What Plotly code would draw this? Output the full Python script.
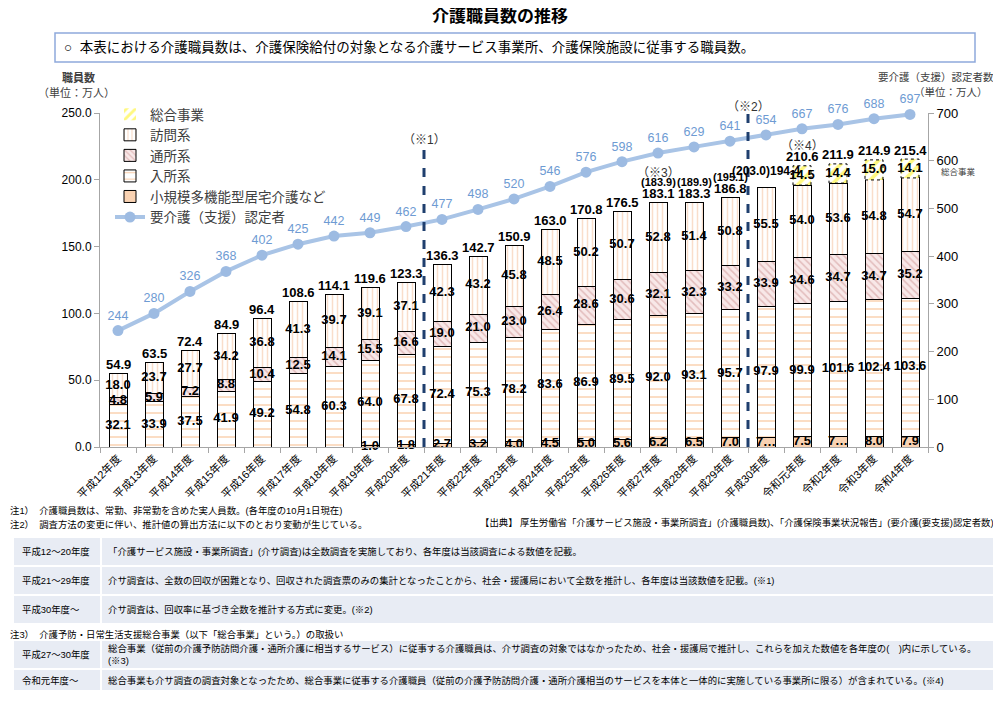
import plotly.graph_objects as go

# ---------------- data ----------------
categories = ["平成12年度", "平成13年度", "平成14年度", "平成15年度", "平成16年度",
              "平成17年度", "平成18年度", "平成19年度", "平成20年度", "平成21年度",
              "平成22年度", "平成23年度", "平成24年度", "平成25年度", "平成26年度",
              "平成27年度", "平成28年度", "平成29年度", "平成30年度", "令和元年度",
              "令和2年度", "令和3年度", "令和4年度"]

small_scale = [None, None, None, None, None, None, None,
               1.0, 1.8, 2.7, 3.2, 4.0, 4.5, 5.0, 5.6, 6.2, 6.5, 7.0, 7.1, 7.5, 7.6, 8.0, 7.9]
small_scale_labels = ["", "", "", "", "", "", "",
                      "1.0", "1.8", "2.7", "3.2", "4.0", "4.5", "5.0", "5.6", "6.2", "6.5",
                      "7.0", "7…", "7.5", "7…", "8.0", "7.9"]
residential = [32.1, 33.9, 37.5, 41.9, 49.2, 54.8, 60.3, 64.0, 67.8, 72.4, 75.3, 78.2,
               83.6, 86.9, 89.5, 92.0, 93.1, 95.7, 97.9, 99.9, 101.6, 102.4, 103.6]
day_care = [4.8, 5.9, 7.2, 8.8, 10.4, 12.5, 14.1, 15.5, 16.6, 19.0, 21.0, 23.0,
            26.4, 28.6, 30.6, 32.1, 32.3, 33.2, 33.9, 34.6, 34.7, 34.7, 35.2]
home_visit = [18.0, 23.7, 27.7, 34.2, 36.8, 41.3, 39.7, 39.1, 37.1, 42.3, 43.2, 45.8,
              48.5, 50.2, 50.7, 52.8, 51.4, 50.8, 55.5, 54.0, 53.6, 54.8, 54.7]
sogo = [None] * 19 + [14.5, 14.4, 15.0, 14.1]
totals = [54.9, 63.5, 72.4, 84.9, 96.4, 108.6, 114.1, 119.6, 123.3, 136.3, 142.7, 150.9,
          163.0, 170.8, 176.5, 183.1, 183.3, 186.8, 194.4, 210.6, 211.9, 214.9, 215.4]
# totals including 総合事業 estimate (H27-H30)
totals_with_sogo = {15: 183.9, 16: 189.9, 17: 195.1, 18: 203.0}
certified = [244, 280, 326, 368, 402, 425, 442, 449, 462, 477, 498, 520, 546, 576, 598,
             616, 629, 641, 654, 667, 676, 688, 697]

# ---------------- geometry helpers (layout only) ----------------
# page offset of the plot div (browser default body margin)
OFF = 8
PAGE_W, PAGE_H = 1001, 705
W, H = PAGE_W - OFF, PAGE_H - OFF
L, R, T, B = 100, 928, 113, 447          # plot area in page pixels


def px(x):
    return (x - L) / (R - L)


def py(y):
    return (B - y) / (B - T)


fig = go.Figure()

series = [
    ("小規模多機能型居宅介護など", small_scale, 5,
     dict(color="#F9D2B2", line=dict(color="black", width=1))),
    ("入所系", residential, 4,
     dict(color="white", line=dict(color="black", width=1),
          pattern=dict(shape="-", fgcolor="#F5A05C", bgcolor="white",
                       size=8, solidity=0.18, fillmode="overlay"))),
    ("通所系", day_care, 3,
     dict(color="#F8E8E8", line=dict(color="black", width=1),
          pattern=dict(shape="\\", fgcolor="#CC9090", bgcolor="#F8E8E8",
                       size=5, solidity=0.3, fillmode="overlay"))),
    ("訪問系", home_visit, 2,
     dict(color="white", line=dict(color="black", width=1),
          pattern=dict(shape="|", fgcolor="#F4BE98", bgcolor="white",
                       size=5, solidity=0.3, fillmode="overlay"))),
    ("総合事業", sogo, 1,
     dict(color="white", line=dict(color="white", width=0),
          pattern=dict(shape="/", fgcolor="#FFF200", bgcolor="white",
                       size=8, solidity=0.45, fillmode="overlay"))),
]

for name, vals, rank, marker in series:
    fig.add_trace(go.Bar(x=categories, y=vals, name=name, marker=marker,
                         legendrank=rank, legendgroup=name,
                         hoverinfo="skip", cliponaxis=False))

# segment labels, drawn on top of all bars (positions from the stacked data)
label_x, label_y, label_t = [], [], []
base = [0.0] * len(categories)
for name, vals, rank, marker in series:
    for i, v in enumerate(vals):
        if v is None:
            continue
        label_x.append(categories[i])
        label_y.append(base[i] + v / 2)
        if vals is small_scale:
            label_t.append(f"<b>{small_scale_labels[i]}</b>")
        else:
            label_t.append(f"<b>{v:.1f}</b>")
        base[i] += v

fig.add_trace(go.Scatter(
    x=label_x, y=label_y, text=label_t, mode="text", showlegend=False,
    textfont=dict(family="Liberation Sans, Arial", size=13, color="black"),
    cliponaxis=False, hoverinfo="skip"))

fig.add_trace(go.Scatter(
    x=categories, y=certified, name="要介護（支援）認定者", yaxis="y2",
    mode="lines+markers+text", text=[str(v) for v in certified],
    textposition="top center",
    textfont=dict(family="Liberation Sans, Arial", size=12.5, color="#6E9BD3"),
    line=dict(color="#A9C4E6", width=4),
    marker=dict(color="#9DBBE2", size=11),
    cliponaxis=False, legendrank=6, legendgroup="line", hoverinfo="skip"))

shapes = []
annotations = []

# dashed outline around 総合事業 segments (computed from the data)
for i, v in enumerate(sogo):
    if v is None:
        continue
    b0 = sum(s for s in (small_scale[i], residential[i], day_care[i], home_visit[i]) if s)
    shapes.append(dict(type="rect", xref="x", yref="y", x0=i - 0.25, x1=i + 0.25,
                       y0=b0, y1=b0 + v, line=dict(color="black", width=1, dash="dot"),
                       layer="above"))

# total labels
for i, t in enumerate(totals):
    if i == 18:
        annotations.append(dict(x=i, y=t, xref="x", yref="y", yshift=16, showarrow=False,
                                text=f"<b>({totals_with_sogo[i]:.1f}){t:.1f}</b>",
                                font=dict(size=12, color="black"), yanchor="middle"))
        continue
    annotations.append(dict(x=i, y=t, xref="x", yref="y", yshift=9, showarrow=False,
                            text=f"<b>{t:.1f}</b>", font=dict(size=13, color="black"),
                            yanchor="middle"))
    if i in totals_with_sogo:
        annotations.append(dict(x=i, y=t, xref="x", yref="y", yshift=20, showarrow=False,
                                text=f"<b>({totals_with_sogo[i]:.1f})</b>",
                                font=dict(size=11, color="black"), yanchor="middle"))

# method-change dashed lines
shapes.append(dict(type="line", xref="x", yref="paper", x0=8.5, x1=8.5, y0=0, y1=py(147),
                   line=dict(color="#1F3F6E", width=3, dash="dash"), layer="above"))
shapes.append(dict(type="line", xref="x", yref="paper", x0=17.5, x1=17.5, y0=0, y1=py(105),
                   line=dict(color="#1F3F6E", width=3, dash="dash"), layer="above"))

note_font = dict(size=12, color="#333333")
annotations += [
    dict(x=8.5, y=py(131), xref="x", yref="paper", text="（※1）", showarrow=False, font=note_font),
    dict(x=17.5, y=py(98), xref="x", yref="paper", text="（※2）", showarrow=False, font=note_font),
    dict(x=15, y=py(164), xref="x", yref="paper", text="（※3）", showarrow=False, font=note_font),
    dict(x=19, y=py(137), xref="x", yref="paper", text="（※4）", showarrow=False, font=note_font),
]


def ptext(x, y, text, size=11, xanchor="left", color="black", **kw):
    annotations.append(dict(x=px(x), y=py(y), xref="paper", yref="paper", text=text,
                            showarrow=False, xanchor=xanchor, yanchor="middle",
                            font=dict(size=size, color=color), align="left", **kw))


# title and description box
ptext(500, 17, "<b>介護職員数の推移</b>", size=17, xanchor="center")
shapes.append(dict(type="rect", xref="paper", yref="paper", x0=px(55), x1=px(975),
                   y0=py(62), y1=py(33), line=dict(color="#8EA9DB", width=1.5),
                   fillcolor="white", layer="below"))
ptext(62, 47.5, "○  本表における介護職員数は、介護保険給付の対象となる介護サービス事業所、介護保険施設に従事する職員数。",
      size=13.5)

# axis titles
ptext(78, 77, "<b>職員数</b>", size=11, xanchor="center", color="#404040")
ptext(76, 92, "（単位：万人）", size=11, xanchor="center", color="#404040")
ptext(996, 77, "要介護（支援）認定者数", size=10.5, xanchor="right", color="#404040")
ptext(990, 92, "（単位：万人）", size=10.5, xanchor="right", color="#404040")
ptext(958, 172, "総合事業", size=8.5, xanchor="center", color="#404040")

# notes
nsize = 9.4
ptext(8, 510, "注1）  介護職員数は、常勤、非常勤を含めた実人員数。(各年度の10月1日現在)", size=nsize)
ptext(8, 524, "注2）  調査方法の変更に伴い、推計値の算出方法に以下のとおり変動が生じている。", size=nsize)
ptext(996, 522, "【出典】 厚生労働省「介護サービス施設・事業所調査」(介護職員数)、「介護保険事業状況報告」(要介護(要支援)認定者数)",
      size=nsize, xanchor="right")
ptext(8, 634, "注3）  介護予防・日常生活支援総合事業（以下「総合事業」という。）の取扱い", size=nsize)

rows = [
    (538, 565, "平成12～20年度", "「介護サービス施設・事業所調査」(介サ調査)は全数調査を実施しており、各年度は当該調査による数値を記載。"),
    (567, 594, "平成21～29年度", "介サ調査は、全数の回収が困難となり、回収された調査票のみの集計となったことから、社会・援護局において全数を推計し、各年度は当該数値を記載。(※1)"),
    (596, 623, "平成30年度～", "介サ調査は、回収率に基づき全数を推計する方式に変更。(※2)"),
    (641, 668, "平成27～30年度", "総合事業（従前の介護予防訪問介護・通所介護に相当するサービス）に従事する介護職員は、介サ調査の対象ではなかったため、社会・援護局で推計し、これらを加えた数値を各年度の(　)内に示している。<br>(※3)"),
    (670, 690, "令和元年度～", "総合事業も介サ調査の調査対象となったため、総合事業に従事する介護職員（従前の介護予防訪問介護・通所介護相当のサービスを本体と一体的に実施している事業所に限る）が含まれている。(※4)"),
]
for y0, y1, head, body in rows:
    shapes.append(dict(type="rect", xref="paper", yref="paper", x0=px(14), x1=px(997),
                       y0=py(y1), y1=py(y0), line=dict(width=0), fillcolor="#E8ECF4",
                       layer="below"))
    shapes.append(dict(type="line", xref="paper", yref="paper", x0=px(101), x1=px(101),
                       y0=py(y1), y1=py(y0), line=dict(color="white", width=2), layer="below"))
    ptext(20, (y0 + y1) / 2, head, size=nsize)
    ptext(106, (y0 + y1) / 2, body, size=nsize)

fig.update_layout(
    width=W, height=H,
    margin=dict(l=L - OFF, r=PAGE_W - R, t=T - OFF, b=PAGE_H - B, autoexpand=False),
    barmode="stack", bargap=0.5,
    plot_bgcolor="white", paper_bgcolor="white",
    font=dict(family="Liberation Sans, Noto Sans CJK JP, sans-serif", size=12, color="black"),
    shapes=shapes, annotations=annotations,
    legend=dict(xref="container", yref="container", x=(110 - OFF) / W, y=1 - (99 - OFF) / H,
                xanchor="left", yanchor="top", traceorder="normal",
                bgcolor="rgba(0,0,0,0)", font=dict(size=13.5, color="#404040"),
                itemwidth=30, tracegroupgap=3),
    xaxis=dict(type="category", range=[-0.5, len(categories) - 0.5], tickangle=-45,
               tickson="boundaries", ticks="outside", automargin=False,
               ticklen=5, tickcolor="#A6A6A6", showline=True, linecolor="#A6A6A6",
               tickfont=dict(size=11), showgrid=False),
    yaxis=dict(range=[0, 250], tickvals=[0, 50, 100, 150, 200, 250], tickformat=".1f",
               ticks="outside", ticklen=5, tickcolor="#A6A6A6", showline=True,
               linecolor="#A6A6A6", showgrid=False, zeroline=False, automargin=False,
               tickfont=dict(size=12)),
    yaxis2=dict(range=[0, 700], dtick=100, overlaying="y", side="right",
                ticks="outside", ticklen=5, tickcolor="#A6A6A6", showline=True,
                linecolor="#A6A6A6", showgrid=False, zeroline=False, automargin=False,
                tickfont=dict(size=13)),
)

fig.write_html("out.html")
